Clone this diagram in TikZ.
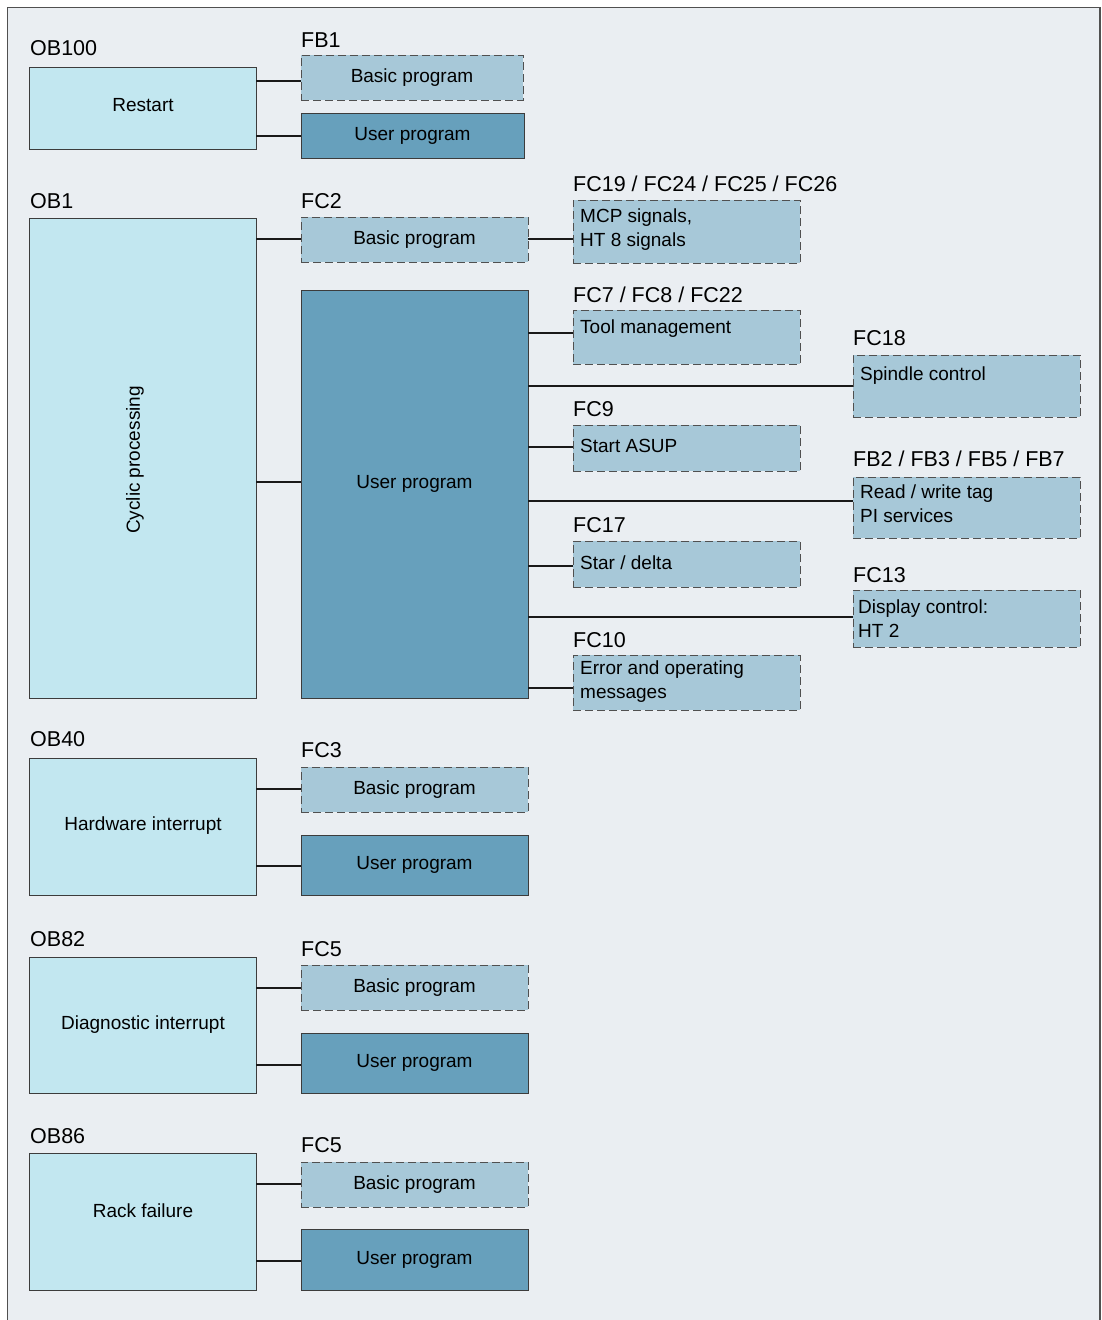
\documentclass[tikz,border=0pt]{standalone}
\usepackage{fontspec}
\setmainfont{Liberation Sans}
\definecolor{bgc}{HTML}{EAEEF2}
\definecolor{obc}{HTML}{C2E7F0}
\definecolor{basc}{HTML}{A7C8D8}
\definecolor{usrc}{HTML}{67A0BC}
\definecolor{edgec}{HTML}{3C3C3C}
\definecolor{dashc}{HTML}{505050}
\begin{document}
\begin{tikzpicture}[x=1pt,y=-1pt,
  box/.style={rectangle, anchor=north west, inner sep=0pt, outer sep=0pt,
    font=\fontsize{19}{24}\selectfont},
  obox/.style={box, draw=edgec, line width=1pt, fill=obc},
  ubox/.style={box, draw=edgec, line width=1pt, fill=usrc},
  bbox/.style={box, draw=dashc, line width=1pt, fill=basc, dash pattern=on 8pt off 4pt},
  lbl/.style={anchor=west, inner sep=0pt, font=\fontsize{21.5}{25}\selectfont},
  txt/.style={anchor=west, inner sep=0pt, align=left, font=\fontsize{19}{24}\selectfont},
  ctxt/.style={inner sep=0pt, font=\fontsize{19}{24}\selectfont},
  conn/.style={draw=black!90, line width=1.6pt}
]
\useasboundingbox (0,0) rectangle (1101,1320);
\fill[bgc] (7,7) rectangle (1101,1320);
\draw[draw=dashc, line width=1.5pt] (7.5,1320) -- (7.5,7.5) -- (1100,7.5) -- (1100,1320);

% ---- OB100
\node[lbl] (l100) at (30,48) {OB100};
\node[obox, minimum width=227pt, minimum height=82pt] (restart) at (29,67) {};
\node[ctxt] (restartt) at (143,105) {Restart};
\node[lbl] (lfb1) at (301,40) {FB1};
\node[bbox, minimum width=222pt, minimum height=45pt] (bp1) at (301,55) {Basic program};
\node[ubox, minimum width=223pt, minimum height=45pt] (up1) at (301,113) {User program};
\draw[conn] (restart.east |- 0,81) -- (bp1.west |- 0,81);
\draw[conn] (restart.east |- 0,136) -- (up1.west |- 0,136);

% ---- OB1
\node[lbl] (l1) at (30,201) {OB1};
\node[obox, minimum width=227pt, minimum height=480pt] (cyc) at (29,218) {};
\node[rotate=90, font=\fontsize{19}{24}\selectfont, inner sep=0pt] (cyct) at (135,460) {Cyclic processing};
\node[lbl] (lfc2) at (301,201) {FC2};
\node[bbox, minimum width=227pt, minimum height=45pt] (bp2) at (301,217) {Basic program};
\node[ubox, minimum width=227pt, minimum height=408pt] (up2) at (301,290) {};
\node[ctxt] (up2t) at (414.5,484) {User program};
\draw[conn] (cyc.east |- 0,239) -- (bp2.west |- 0,239);
\draw[conn] (cyc.east |- 0,482) -- (up2.west |- 0,482);

\node[lbl] (lfc19) at (573,184) {FC19 / FC24 / FC25 / FC26};
\node[bbox, minimum width=227pt, minimum height=63pt] (mcp) at (573,200) {};
\node[txt] (mcpt) at (580,230) {MCP signals,\\HT 8 signals};
\draw[conn] (bp2.east |- 0,239) -- (mcp.west |- 0,239);

\node[lbl] (lfc7) at (573,295) {FC7 / FC8 / FC22};
\node[bbox, minimum width=227pt, minimum height=54pt] (tool) at (573,310) {};
\node[txt] (toolt) at (580,329) {Tool management};
\draw[conn] (up2.east |- 0,333) -- (tool.west |- 0,333);

\node[lbl] (lfc18) at (853,338) {FC18};
\node[bbox, minimum width=227pt, minimum height=62pt] (spin) at (853,355) {};
\node[txt] (spint) at (860,376) {Spindle control};
\draw[conn] (up2.east |- 0,386) -- (spin.west |- 0,386);

\node[lbl] (lfc9) at (573,409) {FC9};
\node[bbox, minimum width=227pt, minimum height=46pt] (asup) at (573,425) {};
\node[txt] (asupt) at (580,446) {Start ASUP};
\draw[conn] (up2.east |- 0,447) -- (asup.west |- 0,447);

\node[lbl] (lfb2) at (853,459) {FB2 / FB3 / FB5 / FB7};
\node[bbox, minimum width=227pt, minimum height=61pt] (rw) at (853,477) {};
\node[txt] (rwt) at (860,504) {Read / write tag\\PI services};
\draw[conn] (up2.east |- 0,501) -- (rw.west |- 0,501);

\node[lbl] (lfc17) at (573,525) {FC17};
\node[bbox, minimum width=227pt, minimum height=46pt] (star) at (573,541) {};
\node[txt] (start) at (580,563) {Star / delta};
\draw[conn] (up2.east |- 0,566) -- (star.west |- 0,566);

\node[lbl] (lfc13) at (853,575) {FC13};
\node[bbox, minimum width=227pt, minimum height=57pt] (disp) at (853,590) {};
\node[txt] (dispt) at (858,619) {Display control:\\HT 2};
\draw[conn] (up2.east |- 0,617) -- (disp.west |- 0,617);

\node[lbl] (lfc10) at (573,640) {FC10};
\node[bbox, minimum width=227pt, minimum height=55pt] (err) at (573,655) {};
\node[txt] (errt) at (580,682) {Error and operating\\messages};
\draw[conn] (up2.east |- 0,688) -- (err.west |- 0,688);

% ---- OB40
\node[lbl] (l40) at (30,739) {OB40};
\node[obox, minimum width=227pt, minimum height=137pt] (hw) at (29,758) {};
\node[ctxt] (hwt) at (143,826) {Hardware interrupt};
\node[lbl] (lfc3) at (301,750) {FC3};
\node[bbox, minimum width=227pt, minimum height=45pt] (bp3) at (301,767) {Basic program};
\node[ubox, minimum width=227pt, minimum height=60pt] (up3) at (301,835) {User program};
\draw[conn] (hw.east |- 0,789) -- (bp3.west |- 0,789);
\draw[conn] (hw.east |- 0,866) -- (up3.west |- 0,866);

% ---- OB82
\node[lbl] (l82) at (30,939) {OB82};
\node[obox, minimum width=227pt, minimum height=136pt] (diag) at (29,957) {};
\node[ctxt] (diagt) at (143,1025) {Diagnostic interrupt};
\node[lbl] (lfc5a) at (301,949) {FC5};
\node[bbox, minimum width=227pt, minimum height=45pt] (bp4) at (301,965) {Basic program};
\node[ubox, minimum width=227pt, minimum height=60pt] (up4) at (301,1033) {User program};
\draw[conn] (diag.east |- 0,988) -- (bp4.west |- 0,988);
\draw[conn] (diag.east |- 0,1065) -- (up4.west |- 0,1065);

% ---- OB86
\node[lbl] (l86) at (30,1136) {OB86};
\node[obox, minimum width=227pt, minimum height=137pt] (rack) at (29,1153) {};
\node[ctxt] (rackt) at (143,1211) {Rack failure};
\node[lbl] (lfc5b) at (301,1145) {FC5};
\node[bbox, minimum width=227pt, minimum height=45pt] (bp5) at (301,1162) {Basic program};
\node[ubox, minimum width=227pt, minimum height=61pt] (up5) at (301,1229) {User program};
\draw[conn] (rack.east |- 0,1184) -- (bp5.west |- 0,1184);
\draw[conn] (rack.east |- 0,1261) -- (up5.west |- 0,1261);
\end{tikzpicture}
\end{document}
